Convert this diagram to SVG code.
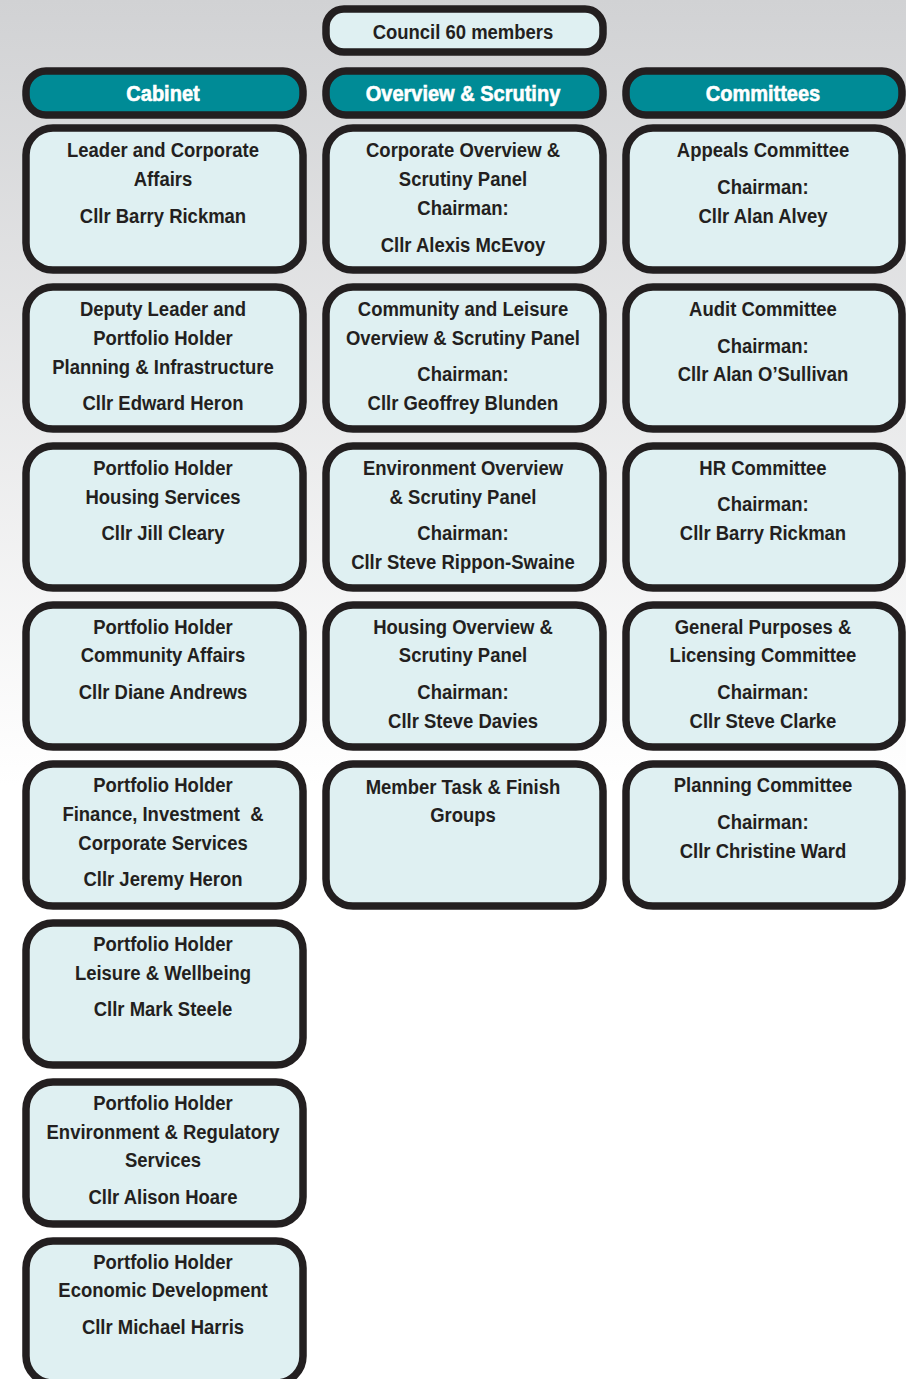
<svg xmlns="http://www.w3.org/2000/svg" width="906" height="1379" viewBox="0 0 906 1379">
<defs>
<linearGradient id="bg" x1="0" y1="0" x2="0" y2="1379" gradientUnits="userSpaceOnUse">
<stop offset="0" stop-color="#d1d2d4"/>
<stop offset="0.57" stop-color="#ffffff"/>
<stop offset="1" stop-color="#ffffff"/>
</linearGradient>
</defs>
<style>
.box{fill:#dff0f2;stroke:#231f20;stroke-width:7.5}
.hdr{fill:#008b96;stroke:#231f20;stroke-width:7.5}
.t{font-family:"Liberation Sans",Arial,sans-serif;font-weight:bold;font-size:21px;fill:#231f20;text-anchor:middle}
.h{font-family:"Liberation Sans",Arial,sans-serif;font-weight:bold;font-size:22px;fill:#ffffff;stroke:#ffffff;stroke-width:0.6;text-anchor:middle}
.c1{transform:matrix(0.88,0,0,1,19.56,0)}
.c2{transform:matrix(0.88,0,0,1,55.56,0)}
.c3{transform:matrix(0.88,0,0,1,91.56,0)}
.h1{transform:matrix(0.91,0,0,1,14.67,0)}
.h2{transform:matrix(0.91,0,0,1,41.67,0)}
.h3{transform:matrix(0.91,0,0,1,68.67,0)}
</style>
<rect x="0" y="0" width="906" height="1379" fill="url(#bg)"/>
<g id="connectors"/>
<g id="council"><rect class="box" x="326" y="9" width="277" height="43" rx="18"/><text class="t c2" x="463" y="39">Council 60 members</text></g>
<g id="hdr-cabinet"><rect class="hdr" x="26" y="71" width="277" height="44" rx="20"/><text class="h h1" x="163" y="101">Cabinet</text></g>
<g id="hdr-os"><rect class="hdr" x="326" y="71" width="277" height="44" rx="20"/><text class="h h2" x="463" y="101">Overview &amp; Scrutiny</text></g>
<g id="hdr-comm"><rect class="hdr" x="626" y="71" width="276" height="44" rx="20"/><text class="h h3" x="763" y="101">Committees</text></g>

<g id="cab1"><rect class="box" x="26" y="128" width="277" height="142" rx="27"/><text class="t c1"><tspan x="163" y="157">Leader and Corporate</tspan><tspan x="163" y="186">Affairs</tspan><tspan x="163" y="223">Cllr Barry Rickman</tspan></text></g>
<g id="cab2"><rect class="box" x="26" y="287" width="277" height="142" rx="27"/><text class="t c1"><tspan x="163" y="316">Deputy Leader and</tspan><tspan x="163" y="345">Portfolio Holder</tspan><tspan x="163" y="374">Planning &amp; Infrastructure</tspan><tspan x="163" y="410">Cllr Edward Heron</tspan></text></g>
<g id="cab3"><rect class="box" x="26" y="446" width="277" height="142" rx="27"/><text class="t c1"><tspan x="163" y="475">Portfolio Holder</tspan><tspan x="163" y="504">Housing Services</tspan><tspan x="163" y="540">Cllr Jill Cleary</tspan></text></g>
<g id="cab4"><rect class="box" x="26" y="605" width="277" height="142" rx="27"/><text class="t c1"><tspan x="163" y="634">Portfolio Holder</tspan><tspan x="163" y="662">Community Affairs</tspan><tspan x="163" y="699">Cllr Diane Andrews</tspan></text></g>
<g id="cab5"><rect class="box" x="26" y="764" width="277" height="142" rx="27"/><text class="t c1"><tspan x="163" y="792">Portfolio Holder</tspan><tspan x="163" y="821">Finance, Investment&#160; &amp;</tspan><tspan x="163" y="850">Corporate Services</tspan><tspan x="163" y="886">Cllr Jeremy Heron</tspan></text></g>
<g id="cab6"><rect class="box" x="26" y="923" width="277" height="142" rx="27"/><text class="t c1"><tspan x="163" y="951">Portfolio Holder</tspan><tspan x="163" y="980">Leisure &amp; Wellbeing</tspan><tspan x="163" y="1016">Cllr Mark Steele</tspan></text></g>
<g id="cab7"><rect class="box" x="26" y="1082" width="277" height="142" rx="27"/><text class="t c1"><tspan x="163" y="1110">Portfolio Holder</tspan><tspan x="163" y="1139">Environment &amp; Regulatory</tspan><tspan x="163" y="1167">Services</tspan><tspan x="163" y="1204">Cllr Alison Hoare</tspan></text></g>
<g id="cab8"><rect class="box" x="26" y="1241" width="277" height="142" rx="27"/><text class="t c1"><tspan x="163" y="1269">Portfolio Holder</tspan><tspan x="163" y="1297">Economic Development</tspan><tspan x="163" y="1334">Cllr Michael Harris</tspan></text></g>

<g id="os1"><rect class="box" x="326" y="128" width="277" height="142" rx="27"/><text class="t c2"><tspan x="463" y="157">Corporate Overview &amp;</tspan><tspan x="463" y="186">Scrutiny Panel</tspan><tspan x="463" y="215">Chairman:</tspan><tspan x="463" y="252">Cllr Alexis McEvoy</tspan></text></g>
<g id="os2"><rect class="box" x="326" y="287" width="277" height="142" rx="27"/><text class="t c2"><tspan x="463" y="316">Community and Leisure</tspan><tspan x="463" y="345">Overview &amp; Scrutiny Panel</tspan><tspan x="463" y="381">Chairman:</tspan><tspan x="463" y="410">Cllr Geoffrey Blunden</tspan></text></g>
<g id="os3"><rect class="box" x="326" y="446" width="277" height="142" rx="27"/><text class="t c2"><tspan x="463" y="475">Environment Overview</tspan><tspan x="463" y="504">&amp; Scrutiny Panel</tspan><tspan x="463" y="540">Chairman:</tspan><tspan x="463" y="569">Cllr Steve Rippon-Swaine</tspan></text></g>
<g id="os4"><rect class="box" x="326" y="605" width="277" height="142" rx="27"/><text class="t c2"><tspan x="463" y="634">Housing Overview &amp;</tspan><tspan x="463" y="662">Scrutiny Panel</tspan><tspan x="463" y="699">Chairman:</tspan><tspan x="463" y="728">Cllr Steve Davies</tspan></text></g>
<g id="os5"><rect class="box" x="326" y="764" width="277" height="142" rx="27"/><text class="t c2"><tspan x="463" y="794">Member Task &amp; Finish</tspan><tspan x="463" y="822">Groups</tspan></text></g>

<g id="com1"><rect class="box" x="626" y="128" width="276" height="142" rx="27"/><text class="t c3"><tspan x="763" y="157">Appeals Committee</tspan><tspan x="763" y="194">Chairman:</tspan><tspan x="763" y="223">Cllr Alan Alvey</tspan></text></g>
<g id="com2"><rect class="box" x="626" y="287" width="276" height="142" rx="27"/><text class="t c3"><tspan x="763" y="316">Audit Committee</tspan><tspan x="763" y="353">Chairman:</tspan><tspan x="763" y="381">Cllr Alan O’Sullivan</tspan></text></g>
<g id="com3"><rect class="box" x="626" y="446" width="276" height="142" rx="27"/><text class="t c3"><tspan x="763" y="475">HR Committee</tspan><tspan x="763" y="511">Chairman:</tspan><tspan x="763" y="540">Cllr Barry Rickman</tspan></text></g>
<g id="com4"><rect class="box" x="626" y="605" width="276" height="142" rx="27"/><text class="t c3"><tspan x="763" y="634">General Purposes &amp;</tspan><tspan x="763" y="662">Licensing Committee</tspan><tspan x="763" y="699">Chairman:</tspan><tspan x="763" y="728">Cllr Steve Clarke</tspan></text></g>
<g id="com5"><rect class="box" x="626" y="764" width="276" height="142" rx="27"/><text class="t c3"><tspan x="763" y="792">Planning Committee</tspan><tspan x="763" y="829">Chairman:</tspan><tspan x="763" y="858">Cllr Christine Ward</tspan></text></g>
</svg>
